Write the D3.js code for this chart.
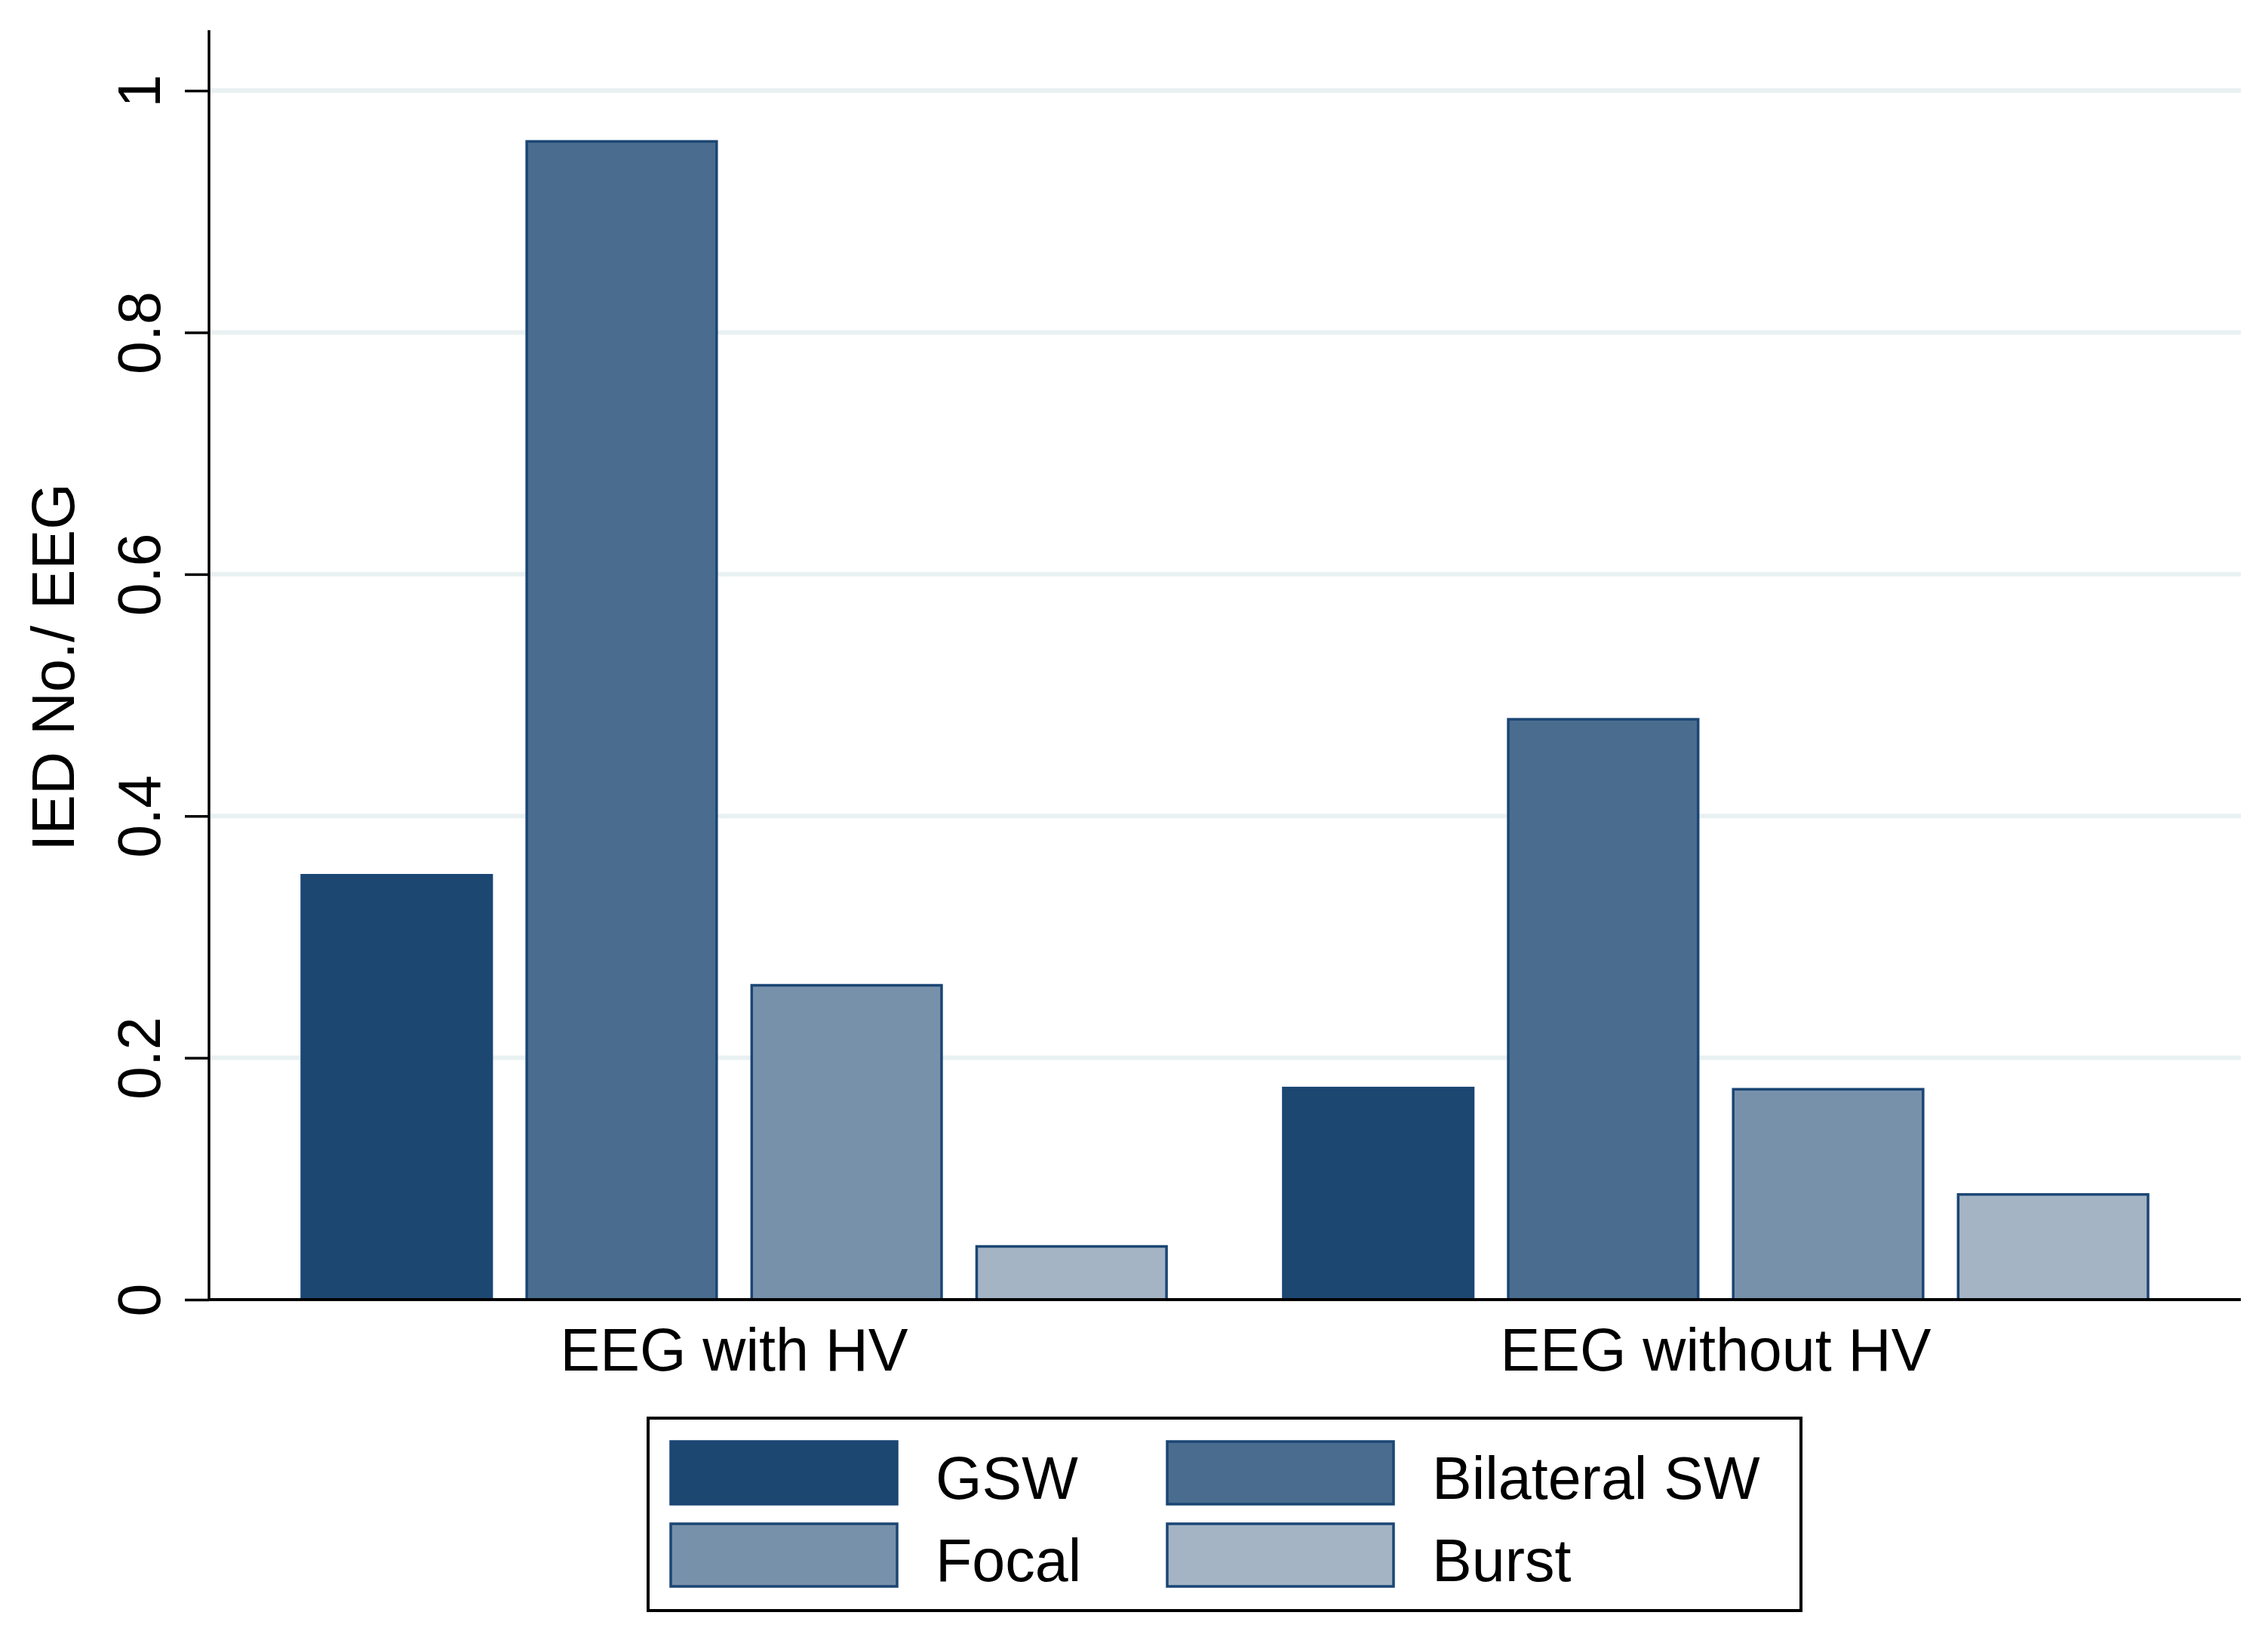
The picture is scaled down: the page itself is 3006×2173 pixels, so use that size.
<!DOCTYPE html>
<html>
<head>
<meta charset="utf-8">
<script src="https://cdn.jsdelivr.net/npm/d3@7"></script>
<style>
  body { margin: 0; background: #fff; }
  svg text { font-family: "Liberation Sans", Arial, Helvetica, sans-serif; fill: #000; }
</style>
</head>
<body>
<div id="chart"></div>
<script>
// data
var groups = ["EEG with HV", "EEG without HV"];
var series = ["GSW", "Bilateral SW", "Focal", "Burst"];
var withHV = [0.351, 0.958, 0.260, 0.044];
var withoutHV = [0.175, 0.480, 0.174, 0.087];
var yTicks = [0, 0.2, 0.4, 0.6, 0.8, 1];
var yTickLabels = ["0", "0.2", "0.4", "0.6", "0.8", "1"];
var colors = ["#1c4771", "#4a6d8f", "#7891ab", "#a4b4c5"];

var values = [withHV, withoutHV];

var width = 3006, height = 2173;
var plot = {left: 277, right: 2970, top: 40, bottom: 1722};

var svg = d3.select("#chart")
    .append("svg")
    .attr("width", width)
    .attr("height", height);

svg.append("rect")
    .attr("width", width)
    .attr("height", height)
    .attr("fill", "#fff");

var y = d3.scaleLinear()
    .domain([0, 1.05])
    .range([plot.bottom, plot.top]);

var x0 = d3.scaleBand()
    .domain(groups)
    .range([400, 2847])
    .paddingInner(0.119)
    .paddingOuter(0);

var x1 = d3.scaleBand()
    .domain(series)
    .range([0, x0.bandwidth()])
    .paddingInner(0.156)
    .paddingOuter(0);

var color = d3.scaleOrdinal()
    .domain(series)
    .range(colors);

// grid lines
svg.append("g")
    .selectAll("line")
    .data(yTicks.filter(function (d) { return d > 0; }))
    .enter()
    .append("line")
    .attr("x1", plot.left)
    .attr("x2", plot.right)
    .attr("y1", function (d) { return y(d); })
    .attr("y2", function (d) { return y(d); })
    .attr("stroke", "#e9f1f2")
    .attr("stroke-width", 6);

// bars
var groupG = svg.append("g")
    .selectAll("g")
    .data(groups)
    .enter()
    .append("g")
    .attr("transform", function (d) { return "translate(" + x0(d) + ",0)"; });

groupG.selectAll("rect")
    .data(function (d, i) {
        return series.map(function (s, j) { return {key: s, value: values[i][j]}; });
    })
    .enter()
    .append("rect")
    .attr("x", function (d) { return x1(d.key); })
    .attr("y", function (d) { return y(d.value); })
    .attr("width", x1.bandwidth())
    .attr("height", function (d) { return y(0) - y(d.value); })
    .attr("fill", function (d) { return color(d.key); })
    .attr("stroke", "#1b4674")
    .attr("stroke-width", 3.5);

// y axis
var yAxis = d3.axisLeft(y)
    .tickValues(yTicks)
    .tickFormat(function (d, i) { return yTickLabels[i]; })
    .tickSize(32)
    .tickSizeOuter(0);

var yG = svg.append("g")
    .attr("transform", "translate(" + plot.left + ",0)")
    .call(yAxis);

yG.select(".domain")
    .attr("stroke", "#000")
    .attr("stroke-width", 3.5)
    .attr("d", "M0," + plot.top + "V" + plot.bottom);

yG.selectAll(".tick line")
    .attr("stroke", "#000")
    .attr("stroke-width", 3.5);

yG.selectAll(".tick text")
    .attr("x", null)
    .attr("dy", null)
    .attr("transform", "translate(-65,0) rotate(-90)")
    .attr("text-anchor", "middle")
    .attr("font-size", 79)
    .attr("font-family", "Liberation Sans, Arial, sans-serif")
    .attr("fill", "#000");

// x axis baseline
svg.append("line")
    .attr("x1", plot.left)
    .attr("x2", plot.right)
    .attr("y1", y(0))
    .attr("y2", y(0))
    .attr("stroke", "#000")
    .attr("stroke-width", 4);

// category labels
svg.append("g")
    .selectAll("text")
    .data(groups)
    .enter()
    .append("text")
    .attr("x", function (d) { return x0(d) + x0.bandwidth() / 2; })
    .attr("y", 1816)
    .attr("text-anchor", "middle")
    .attr("font-size", 79)
    .text(function (d) { return d; });

// y axis title
svg.append("text")
    .attr("transform", "translate(98,884) rotate(-90)")
    .attr("text-anchor", "middle")
    .attr("font-size", 79)
    .text("IED No./ EEG");

// legend
var legend = svg.append("g");

legend.append("rect")
    .attr("x", 859)
    .attr("y", 1879)
    .attr("width", 1528)
    .attr("height", 255)
    .attr("fill", "#fff")
    .attr("stroke", "#000")
    .attr("stroke-width", 4);

var colX = [889, 1547];
var rowY = [1910, 2019];

var item = legend.selectAll("g")
    .data(series)
    .enter()
    .append("g")
    .attr("transform", function (d, i) {
        return "translate(" + colX[i % 2] + "," + rowY[Math.floor(i / 2)] + ")";
    });

item.append("rect")
    .attr("width", 300)
    .attr("height", 83)
    .attr("fill", function (d) { return color(d); })
    .attr("stroke", "#1b4674")
    .attr("stroke-width", 3.5);

item.append("text")
    .attr("x", 351)
    .attr("y", 76)
    .attr("font-size", 79)
    .text(function (d) { return d; });
</script>
</body>
</html>
